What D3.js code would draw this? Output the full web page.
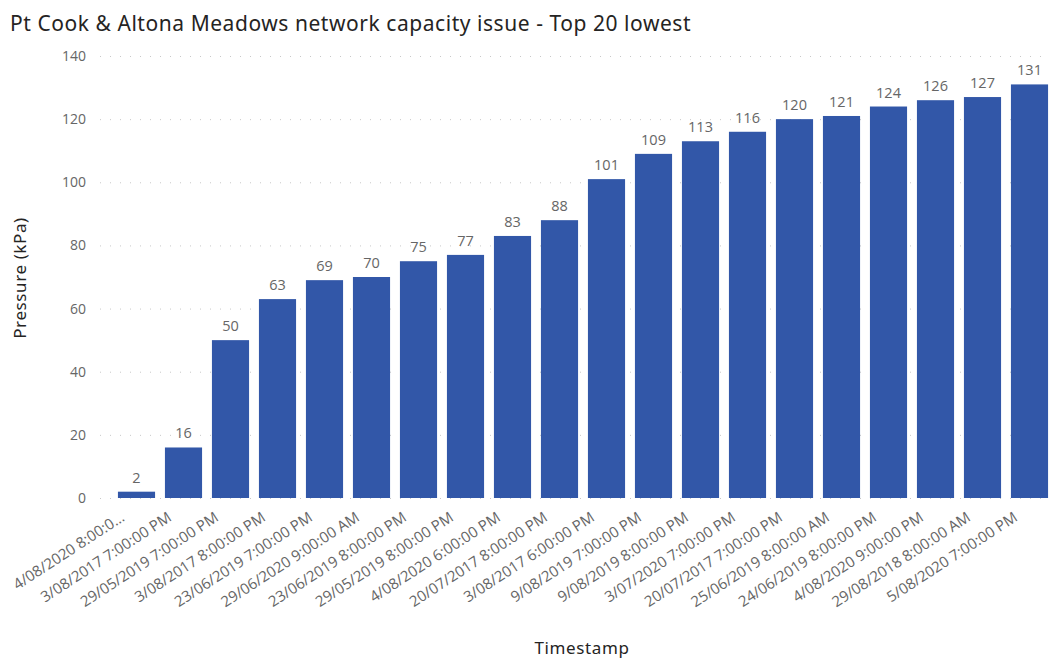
<!DOCTYPE html>
<html>
<head>
<meta charset="utf-8">
<script src="https://cdn.jsdelivr.net/npm/d3@7"></script>
<style>
  body { margin: 0; background: #fff; }
  svg { display: block; }
</style>
</head>
<body>
<svg id="chart" width="1049" height="660"></svg>
<script>
// Lowest 20 pressure readings, sorted ascending
const timestamps = [
  "4/08/2020 8:00:0…", "3/08/2017 7:00:00 PM", "29/05/2019 7:00:00 PM", "3/08/2017 8:00:00 PM",
  "23/06/2019 7:00:00 PM", "29/06/2020 9:00:00 AM", "23/06/2019 8:00:00 PM", "29/05/2019 8:00:00 PM",
  "4/08/2020 6:00:00 PM", "20/07/2017 8:00:00 PM", "3/08/2017 6:00:00 PM", "9/08/2019 7:00:00 PM",
  "9/08/2019 8:00:00 PM", "3/07/2020 7:00:00 PM", "20/07/2017 7:00:00 PM", "25/06/2019 8:00:00 AM",
  "24/06/2019 8:00:00 PM", "4/08/2020 9:00:00 PM", "29/08/2018 8:00:00 AM", "5/08/2020 7:00:00 PM"
];
const pressure = [2, 16, 50, 63, 69, 70, 75, 77, 83, 88, 101, 109, 113, 116, 120, 121, 124, 126, 127, 131];
const yTicks = [0, 20, 40, 60, 80, 100, 120, 140];

const svg = d3.select("#chart");
const plotTop = 56, plotBottom = 498;

const x = d3.scaleBand()
  .domain(timestamps)
  .range([113, 1053])
  .paddingInner(0.21)
  .paddingOuter(0.105);

const y = d3.scaleLinear()
  .domain([0, 140])
  .range([plotBottom, plotTop]);

const fontAxis = "'Open Sans', 'Segoe UI', sans-serif";
const fontTitle = "'Noto Sans', 'DejaVu Sans', sans-serif";

// Title
svg.append("text")
  .attr("x", 10).attr("y", 31)
  .attr("font-family", fontTitle)
  .attr("font-size", 21)
  .attr("letter-spacing", 0.55)
  .attr("fill", "#252423")
  .text("Pt Cook & Altona Meadows network capacity issue - Top 20 lowest");

// Dotted gridlines
svg.append("g")
  .selectAll("line")
  .data(yTicks)
  .join("line")
  .attr("x1", 100).attr("x2", 1046)
  .attr("y1", d => y(d) + 0.5).attr("y2", d => y(d) + 0.5)
  .attr("stroke", "#c8c8c8")
  .attr("stroke-width", 1)
  .attr("stroke-dasharray", "1,9");

// Y axis
const yAxis = svg.append("g")
  .attr("transform", "translate(86,0)")
  .call(d3.axisLeft(y).tickValues(yTicks).tickSize(0).tickPadding(0));
yAxis.select(".domain").remove();
yAxis.selectAll("text")
  .attr("font-family", fontAxis)
  .attr("font-size", 14)
  .attr("fill", "#666");

// Bars
svg.append("g")
  .selectAll("rect")
  .data(pressure)
  .join("rect")
  .attr("x", (d, i) => x(timestamps[i]))
  .attr("y", d => y(d))
  .attr("width", x.bandwidth())
  .attr("height", d => plotBottom - y(d))
  .attr("fill", "#3257a8");

// Data labels
svg.append("g")
  .selectAll("text")
  .data(pressure)
  .join("text")
  .attr("x", (d, i) => x(timestamps[i]) + x.bandwidth() / 2)
  .attr("y", d => y(d) - 9)
  .attr("text-anchor", "middle")
  .attr("font-family", fontAxis)
  .attr("font-size", 14.5)
  .attr("fill", "#666")
  .text(d => d);

// X axis labels, rotated
const xAxis = svg.append("g")
  .attr("transform", `translate(0,${plotBottom})`)
  .call(d3.axisBottom(x).tickSize(0).tickPadding(0));
xAxis.select(".domain").remove();
xAxis.selectAll("text")
  .attr("font-family", fontAxis)
  .attr("font-size", 15)
  .attr("fill", "#666")
  .attr("text-anchor", "end")
  .attr("dy", 0)
  .attr("transform", "translate(-11,22) rotate(-33)");

// Axis titles
svg.append("text")
  .attr("x", 582).attr("y", 654)
  .attr("text-anchor", "middle")
  .attr("font-family", fontTitle)
  .attr("font-size", 17)
  .attr("letter-spacing", 0.6)
  .attr("fill", "#252423")
  .text("Timestamp");

svg.append("text")
  .attr("transform", "translate(26,278) rotate(-90)")
  .attr("text-anchor", "middle")
  .attr("font-family", fontTitle)
  .attr("font-size", 17)
  .attr("letter-spacing", 0.6)
  .attr("fill", "#252423")
  .text("Pressure (kPa)");
</script>
</body>
</html>
